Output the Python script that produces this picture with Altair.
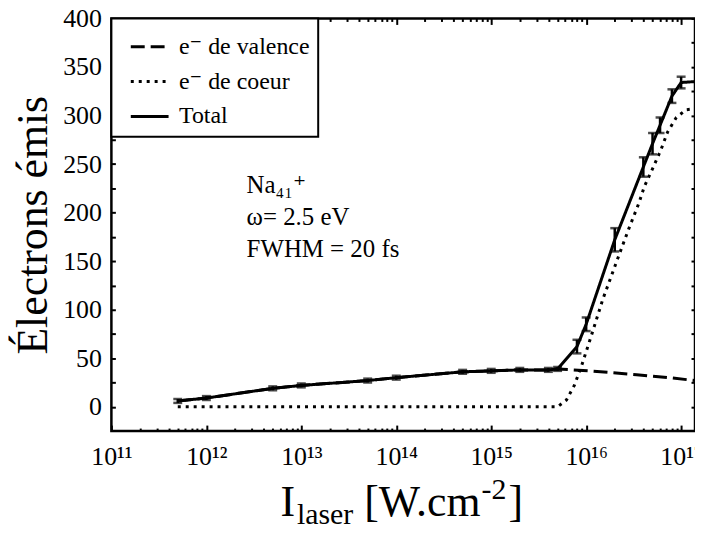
import altair as alt
import pandas as pd

FONT = "Liberation Serif, DejaVu Serif, serif"
SERIES = ["e⁻ de valence", "e⁻ de coeur", "Total"]

# ---- data ----
total_x = [5e11, 1e12, 5e12, 1e13, 5e13, 1e14, 5e14, 1e15, 2e15, 4e15, 5e15,
           8e15, 1e16, 2e16, 4e16, 5e16, 6e16, 8e16, 1e17, 1.4e17]
total_y = [6, 9, 19, 22, 27, 30, 36, 37, 38, 38, 39,
           62, 85, 172, 247, 271, 290, 320, 334, 335]
total_err = [2, 2, 2, 2, 2, 2, 2, 2, 2, 2, 2,
             7, 7, 12, 10, 11, 8, 7, 6, 0]

valence_x = [5e11, 1e12, 5e12, 1e13, 5e13, 1e14, 5e14, 1e15, 2e15, 4e15, 5e15,
             1.1e16, 3.4e16, 7.5e16, 1.4e17]
valence_y = [6, 9, 19, 22, 27, 30, 36, 37, 38, 38, 39, 37, 33, 30, 27]

core_x = [5e11, 5e15, 6.2e15, 7.5e15, 9e15, 1.14e16, 1.5e16, 2.1e16, 2.8e16,
          3.6e16, 4.1e16, 5.1e16, 6.2e16, 7.2e16, 8.9e16, 1.13e17, 1.4e17]
core_y = [0, 0, 7, 22, 43, 74, 111, 150, 183, 210, 227, 247, 266, 283, 298, 306, 307]

decades = [1e11, 1e12, 1e13, 1e14, 1e15, 1e16, 1e17]
decade_labels = ["10¹¹", "10¹²", "10¹³", "10¹⁴", "10¹⁵", "10¹⁶", "10¹⁷"]
minor_x = [m * d for d in decades[:-1] for m in range(2, 10)]
y_ticks = list(range(0, 401, 25))

annotation = ["Na₄₁⁺", "ω= 2.5 eV", "FWHM = 20 fs"]
# x-axis title pieces: main, subscript, main, superscript, main
xtitle_parts = ["I", "laser", "[W.cm", "-2", "]"]
ytitle = "Électrons émis"

# ---- tables ----
line_df = pd.concat([
    pd.DataFrame({"x": valence_x, "y": valence_y, "series": SERIES[0]}),
    pd.DataFrame({"x": core_x, "y": core_y, "series": SERIES[1]}),
    pd.DataFrame({"x": total_x, "y": total_y, "series": SERIES[2]}),
])
err_df = pd.DataFrame({
    "x": total_x[:-1],
    "lo": [y - e for y, e in zip(total_y[:-1], total_err[:-1])],
    "hi": [y + e for y, e in zip(total_y[:-1], total_err[:-1])],
})

xscale = alt.Scale(type="log", domain=[1e11, 1.4e17], nice=False)
yscale = alt.Scale(domain=[-25, 400], nice=False, zero=False)

label_expr = "[" + ",".join("'%s'" % s for s in decade_labels) + "][round(log(datum.value)/LN10) - 11]"

ax_bottom = alt.Axis(orient="bottom", values=decades, labelExpr=label_expr, tickSize=6, offset=-6,
                     domain=False, grid=False, labelFontSize=26, labelPadding=13, labelFlush=False,
                     labelOverlap=False, title=None)
ax_bottom_minor = alt.Axis(orient="bottom", values=minor_x, tickSize=3, offset=-3, domain=False,
                           grid=False, labels=False, title=None)
ax_top = alt.Axis(orient="top", values=decades, tickSize=6, offset=-6, domain=False, grid=False,
                  labels=False, title=None)
ax_top_minor = alt.Axis(orient="top", values=minor_x, tickSize=3, offset=-3, domain=False, grid=False,
                        labels=False, title=None)
ax_left = alt.Axis(orient="left", values=y_ticks, labelExpr="datum.value % 50 == 0 ? datum.label : ''",
                   tickSize=4, offset=-4, domain=False, grid=False, labelFontSize=26, labelPadding=10,
                   title=ytitle, titleFontSize=44, titlePadding=7)
ax_right = alt.Axis(orient="right", values=y_ticks, tickSize=4, offset=-4, domain=False, grid=False,
                    labels=False, title=None)

lines = alt.Chart(line_df).mark_line(strokeWidth=3, color="black", clip=True).encode(
    x=alt.X("x:Q", scale=xscale, axis=ax_bottom),
    y=alt.Y("y:Q", scale=yscale, axis=ax_left),
    strokeDash=alt.StrokeDash(
        "series:N",
        scale=alt.Scale(domain=SERIES, range=[[14, 6], [3, 5], [1, 0]]),
        legend=alt.Legend(orient="top-left", offset=0, title=None, symbolType="stroke",
                          symbolSize=1444, symbolStrokeWidth=3, symbolStrokeColor="black",
                          labelFontSize=24, labelFont=FONT, labelColor="black",
                          strokeColor="black", fillColor="white", padding=8,
                          labelOffset=9, symbolOffset=10),
    ),
)

rules = alt.Chart(err_df).mark_rule(strokeWidth=2.5, color="black").encode(
    x=alt.X("x:Q", scale=xscale, axis=ax_top),
    y=alt.Y("lo:Q", scale=yscale, axis=ax_right),
    y2="hi:Q",
)
caps_lo = alt.Chart(err_df).mark_tick(orient="horizontal", size=9, thickness=2.5, color="black").encode(
    x=alt.X("x:Q", scale=xscale, axis=ax_bottom_minor),
    y=alt.Y("lo:Q", scale=yscale, axis=None),
)
caps_hi = alt.Chart(err_df).mark_tick(orient="horizontal", size=9, thickness=2.5, color="black").encode(
    x=alt.X("x:Q", scale=xscale, axis=ax_top_minor),
    y=alt.Y("hi:Q", scale=yscale, axis=None),
)

text = alt.Chart(pd.DataFrame({"t": ["\n".join(annotation)]})).mark_text(
    align="left", baseline="alphabetic", fontSize=25, font=FONT, lineBreak="\n", lineHeight=32,
    color="black"
).encode(text="t:N", x=alt.value(136), y=alt.value(176))


def title_piece(s, x, y, size):
    return alt.Chart(pd.DataFrame({"t": [s]})).mark_text(
        align="left", baseline="alphabetic", fontSize=size, font=FONT, color="black"
    ).encode(text="t:N", x=alt.value(x), y=alt.value(y))


BIG, SMALL, BASE = 44, 30, 500
x_I = 170
x_laser = x_I + 0.333 * BIG + 2
x_mid = x_laser + 1.888 * SMALL + 11
x_sup = x_mid + 118
x_end = x_sup + 0.9 * SMALL
xt = [
    title_piece(xtitle_parts[0], x_I, BASE, BIG),
    title_piece(xtitle_parts[1], x_laser, BASE + 8, SMALL),
    title_piece(xtitle_parts[2], x_mid, BASE, BIG),
    title_piece(xtitle_parts[3], x_sup, BASE - 17, SMALL),
    title_piece(xtitle_parts[4], x_end, BASE, BIG),
]

chart = alt.layer(lines, rules, caps_lo, caps_hi, text, *xt).resolve_axis(
    x="independent", y="independent"
).properties(
    width=587, height=415,
    autosize=alt.AutoSizeParams(type="none"),
    padding={"left": 104, "top": 9, "right": 0, "bottom": 97},
).configure_view(stroke="black", strokeWidth=2.5).configure_axis(
    labelFont=FONT, titleFont=FONT, titleFontWeight="normal", labelColor="black",
    titleColor="black", tickColor="black", tickWidth=2
).configure_legend(strokeWidth=2)

chart.save("out.html", embed_options={"renderer": "svg", "actions": False})
